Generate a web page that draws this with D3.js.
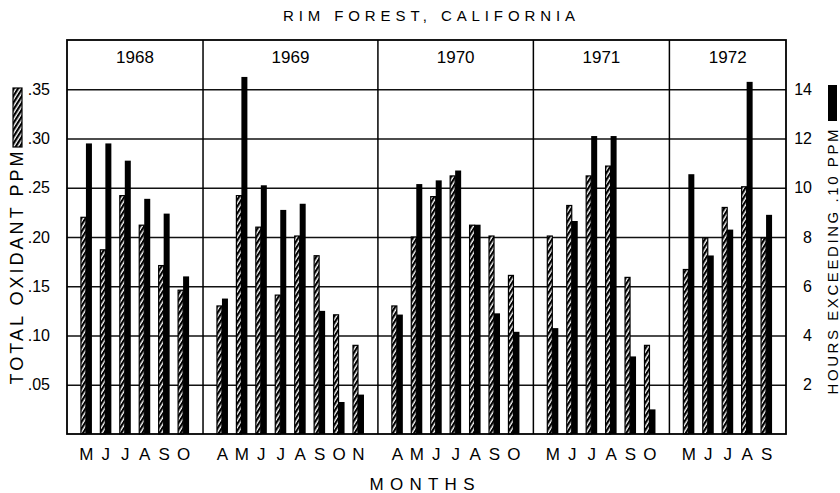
<!DOCTYPE html>
<html>
<head>
<meta charset="utf-8">
<script src="https://cdn.jsdelivr.net/npm/d3@7"></script>
<style>
    body { margin: 0; background: #fff; }
    svg { display: block; font-family: "Liberation Sans", Arial, sans-serif; fill: #000; }
    .grid line { stroke: #111; stroke-width: 1.3; }
    .grid .domain { display: none; }
    .axis .domain { display: none; }
    .axis text { font-size: 16px; fill: #000; }
</style>
</head>
<body>
<div id="chart"></div>
<script>
// Data
const years = ["1968", "1969", "1970", "1971", "1972"];
const months = [
    ["M", "J", "J", "A", "S", "O"],
    ["A", "M", "J", "J", "A", "S", "O", "N"],
    ["A", "M", "J", "J", "A", "S", "O"],
    ["M", "J", "J", "A", "S", "O"],
    ["M", "J", "J", "A", "S"]
];
// total oxidant, ppm (hatched bars)
const oxidant = [
    [0.220, 0.187, 0.242, 0.212, 0.171, 0.146],
    [0.130, 0.242, 0.210, 0.141, 0.201, 0.181, 0.121, 0.090],
    [0.130, 0.200, 0.241, 0.262, 0.212, 0.201, 0.161],
    [0.201, 0.232, 0.262, 0.272, 0.159, 0.090],
    [0.167, 0.199, 0.230, 0.251, 0.199]
];
// hours exceeding .10 ppm (black bars)
const hours = [
    [11.8, 11.8, 11.1, 9.55, 8.95, 6.4],
    [5.5, 14.5, 10.1, 9.1, 9.35, 5.0, 1.3, 1.6],
    [4.85, 10.15, 10.3, 10.7, 8.5, 4.9, 4.15],
    [4.3, 8.65, 12.1, 12.1, 3.15, 1.0],
    [10.55, 7.25, 8.3, 14.3, 8.9]
];
const ppmTicks = [0.05, 0.10, 0.15, 0.20, 0.25, 0.30, 0.35];
const hourTicks = [2, 4, 6, 8, 10, 12, 14];

const width = 840, height = 493;
const margin = { top: 40, right: 54, bottom: 59, left: 67 };
const plotW = width - margin.left - margin.right;
const bottom = height - margin.bottom;

// each year panel gets one slot per month plus one slot of padding
const offsets = [];
let total = 0;
months.forEach(m => { offsets.push(total); total += m.length + 1; });

const svg = d3.select("#chart").append("svg")
    .attr("width", width)
    .attr("height", height);

const defs = svg.append("defs");
const hatch = defs.append("pattern")
    .attr("id", "hatch")
    .attr("patternUnits", "userSpaceOnUse")
    .attr("width", 8)
    .attr("height", 3.6)
    .attr("patternTransform", "rotate(-58)");
hatch.append("rect").attr("width", 8).attr("height", 3.6).attr("fill", "#fff");
hatch.append("rect").attr("width", 8).attr("height", 2.2).attr("fill", "#000");

// scales
const x = d3.scaleLinear().domain([0, total]).range([margin.left, width - margin.right]);
const y = d3.scaleLinear().domain([0, 0.40]).range([bottom, margin.top]);
const yh = d3.scaleLinear().domain([0, 16]).range([bottom, margin.top]);

// grid lines
svg.append("g")
    .attr("class", "grid")
    .attr("transform", `translate(${margin.left},0)`)
    .call(d3.axisLeft(y).tickValues(ppmTicks).tickSize(-plotW).tickFormat(""));

// bars
const bars = [];
months.forEach((m, p) => {
    m.forEach((label, i) => {
        bars.push({ pos: offsets[p] + i + 1, ppm: oxidant[p][i], hrs: hours[p][i] });
    });
});

svg.append("g").selectAll("rect")
    .data(bars)
    .join("rect")
    .attr("x", d => x(d.pos) - 5.5)
    .attr("width", 5)
    .attr("y", d => y(d.ppm))
    .attr("height", d => bottom - y(d.ppm))
    .attr("fill", "url(#hatch)")
    .attr("stroke", "#000")
    .attr("stroke-width", 1.2);

svg.append("g").selectAll("rect")
    .data(bars)
    .join("rect")
    .attr("x", d => x(d.pos) - 0.5)
    .attr("width", 6)
    .attr("y", d => yh(d.hrs))
    .attr("height", d => bottom - yh(d.hrs))
    .attr("fill", "#000");

// frame and year dividers
svg.append("rect")
    .attr("x", x(0))
    .attr("y", margin.top)
    .attr("width", x(total) - x(0))
    .attr("height", bottom - margin.top)
    .attr("fill", "none")
    .attr("stroke", "#000")
    .attr("stroke-width", 1.8);

svg.append("g").selectAll("line")
    .data(offsets.slice(1))
    .join("line")
    .attr("x1", d => x(d))
    .attr("x2", d => x(d))
    .attr("y1", margin.top)
    .attr("y2", bottom)
    .attr("stroke", "#000")
    .attr("stroke-width", 1.5);

// year labels
svg.append("g").selectAll("text")
    .data(years)
    .join("text")
    .attr("x", (d, p) => x(offsets[p] + (months[p].length + 1) / 2))
    .attr("y", 63)
    .attr("text-anchor", "middle")
    .attr("font-size", 17)
    .text(d => d);

// month labels
svg.append("g").selectAll("text")
    .data(bars.map((b, k) => ({ pos: b.pos, label: months.flat()[k] })))
    .join("text")
    .attr("x", d => x(d.pos))
    .attr("y", 460)
    .attr("text-anchor", "middle")
    .attr("font-size", 17)
    .text(d => d.label);

// left axis labels
svg.append("g")
    .attr("class", "axis")
    .attr("transform", `translate(${margin.left},0)`)
    .call(d3.axisLeft(y).tickValues(ppmTicks).tickSize(0).tickPadding(17)
        .tickFormat(d => d3.format(".2f")(d).replace(/^0/, "")));

// right axis labels
svg.append("g")
    .attr("class", "axis")
    .attr("transform", `translate(${width - margin.right},0)`)
    .call(d3.axisRight(yh).tickValues(hourTicks).tickSize(0))
    .selectAll("text")
    .attr("text-anchor", "end")
    .attr("x", 26);

// titles
svg.append("text")
    .attr("x", 429)
    .attr("y", 21)
    .attr("text-anchor", "middle")
    .attr("font-size", 15)
    .attr("textLength", 292)
    .attr("lengthAdjust", "spacing")
    .text("RIM  FOREST,  CALIFORNIA");

svg.append("text")
    .attr("x", 422)
    .attr("y", 490)
    .attr("text-anchor", "middle")
    .attr("font-size", 17)
    .attr("textLength", 105)
    .attr("lengthAdjust", "spacing")
    .text("MONTHS");

svg.append("text")
    .attr("transform", "translate(23,268) rotate(-90)")
    .attr("text-anchor", "middle")
    .attr("font-size", 18)
    .attr("textLength", 233)
    .attr("lengthAdjust", "spacing")
    .text("TOTAL  OXIDANT  PPM");

svg.append("text")
    .attr("transform", "translate(838,262) rotate(-90)")
    .attr("text-anchor", "middle")
    .attr("font-size", 15)
    .attr("textLength", 265)
    .attr("lengthAdjust", "spacing")
    .text("HOURS  EXCEEDING  .10  PPM");

// legend swatches next to axis titles
svg.append("rect")
    .attr("x", 13).attr("y", 88)
    .attr("width", 9).attr("height", 59)
    .attr("fill", "url(#hatch)")
    .attr("stroke", "#000")
    .attr("stroke-width", 1.2);

svg.append("rect")
    .attr("x", 828).attr("y", 85)
    .attr("width", 9).attr("height", 36)
    .attr("fill", "#000");
</script>
</body>
</html>
